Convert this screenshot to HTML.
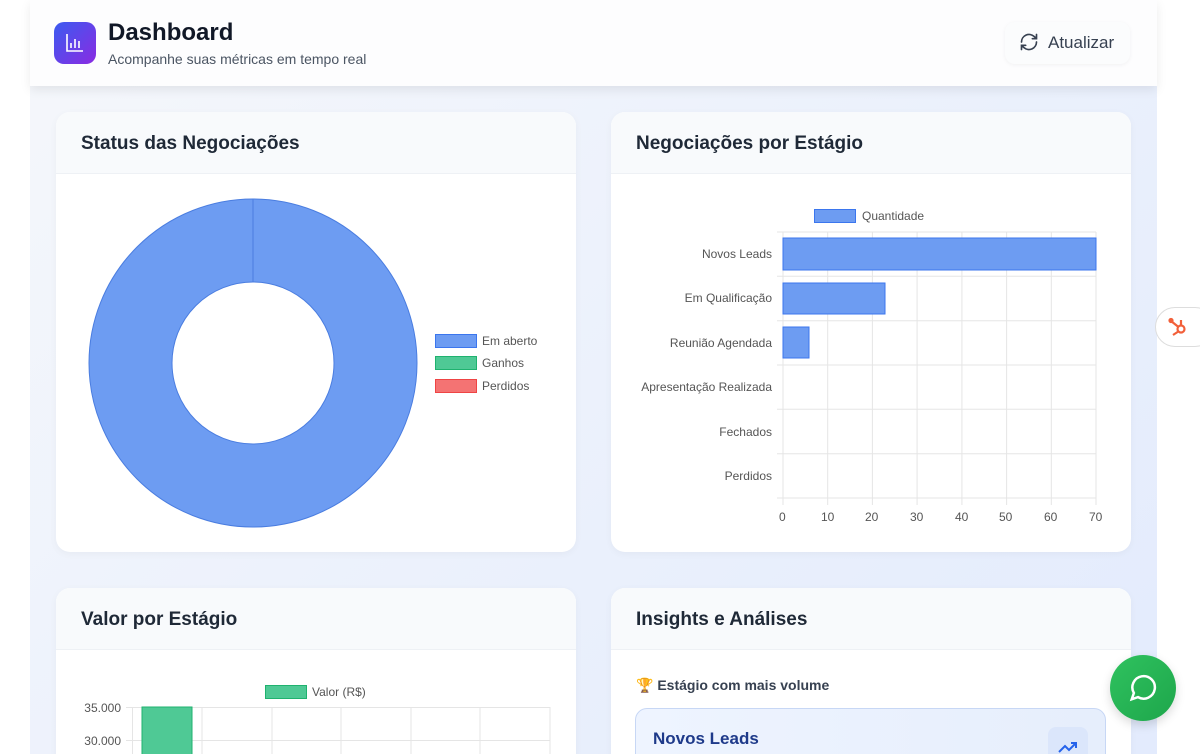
<!DOCTYPE html>
<html><head><meta charset="utf-8"><style>
*{margin:0;padding:0;box-sizing:border-box}
html,body{width:1200px;height:754px;overflow:hidden}
body{background:#fff;font-family:"Liberation Sans",sans-serif;position:relative}
.main{position:absolute;left:30px;top:0;width:1127px;height:754px;background:linear-gradient(135deg,#f5f7fb 0%,#eaf0fc 60%,#e3ebfd 100%)}
.hdr{position:absolute;left:30px;top:0;width:1127px;height:86px;background:#fdfdfe;box-shadow:0 4px 10px rgba(0,0,0,.08)}
.logo{position:absolute;left:54px;top:22px;width:42px;height:42px;border-radius:10px;background:linear-gradient(135deg,#3b5bf0,#8a2be2)}
.card{position:absolute;background:#fff;border-radius:14px;overflow:hidden;box-shadow:0 2px 8px rgba(0,0,0,.04)}
.ch{height:62px;background:#f8fafc;border-bottom:1px solid #eef1f5;font-size:19px;font-weight:bold;color:#1f2937;padding:21px 0 0 25px}
.t{position:absolute;font-size:12px;color:#555}
</style></head><body>
<div class="main"></div>
<div class="hdr"></div>
<div class="logo"><svg width="42" height="42"><g stroke="#fff" stroke-width="1.6" fill="none"><path d="M13 12V29H29"/><path d="M17 26v-5M21 26v-9M25 26v-7"/></g></svg></div>
<div style="position:absolute;left:108px;top:19px;font-size:24px;font-weight:bold;color:#111827">Dashboard</div>
<div style="position:absolute;left:108px;top:51px;font-size:14px;color:#4b5563">Acompanhe suas métricas em tempo real</div>
<div style="position:absolute;left:1005px;top:22px;width:125px;height:42px;border-radius:10px;background:#fbfcfd;box-shadow:0 1px 4px rgba(0,0,0,.05)"></div>
<svg style="position:absolute;left:1019px;top:32px" width="20" height="20" viewBox="0 0 24 24" fill="none" stroke="#374151" stroke-width="2" stroke-linecap="round"><path d="M3 12a9 9 0 0 1 15-6.7L21 8M21 3v5h-5M21 12a9 9 0 0 1-15 6.7L3 16M3 21v-5h5"/></svg>
<div style="position:absolute;left:1048px;top:33px;font-size:17px;color:#374151">Atualizar</div>

<div class="card" style="left:56px;top:112px;width:520px;height:440px"><div class="ch">Status das Negociações</div></div>
<svg style="position:absolute;left:0;top:0" width="600" height="560">
<circle cx="253" cy="363" r="122.5" fill="none" stroke="#6d9cf2" stroke-width="83"/>
<circle cx="253" cy="363" r="164" fill="none" stroke="#4a7de0" stroke-width="1"/>
<circle cx="253" cy="363" r="81" fill="none" stroke="#4a7de0" stroke-width="1"/>
<line x1="253" y1="199" x2="253" y2="282" stroke="#4a7de0"/>
<rect x="435.5" y="334.5" width="41" height="13" fill="#6d9cf2" stroke="#3b76ee"/>
<rect x="435.5" y="356.5" width="41" height="13" fill="#4fc995" stroke="#1fb26f"/>
<rect x="435.5" y="379.5" width="41" height="13" fill="#f47373" stroke="#ef4444"/>
</svg>
<div class="t" style="left:482px;top:334px">Em aberto</div>
<div class="t" style="left:482px;top:356px">Ganhos</div>
<div class="t" style="left:482px;top:379px">Perdidos</div>

<div class="card" style="left:611px;top:112px;width:520px;height:440px"><div class="ch">Negociações por Estágio</div></div>
<svg style="position:absolute;left:600px;top:0" width="600" height="560">
<g stroke="#e5e5e5" stroke-width="1">
<line x1="183" y1="232" x2="183" y2="505"/><line x1="227.7" y1="232" x2="227.7" y2="505"/><line x1="272.4" y1="232" x2="272.4" y2="505"/><line x1="317.1" y1="232" x2="317.1" y2="505"/><line x1="361.9" y1="232" x2="361.9" y2="505"/><line x1="406.6" y1="232" x2="406.6" y2="505"/><line x1="451.3" y1="232" x2="451.3" y2="505"/><line x1="496" y1="232" x2="496" y2="505"/>
<line x1="177" y1="232" x2="496" y2="232"/><line x1="177" y1="276.3" x2="496" y2="276.3"/><line x1="177" y1="320.7" x2="496" y2="320.7"/><line x1="177" y1="365" x2="496" y2="365"/><line x1="177" y1="409.3" x2="496" y2="409.3"/><line x1="177" y1="453.7" x2="496" y2="453.7"/><line x1="177" y1="498" x2="496" y2="498"/>
</g>
<rect x="183" y="238" width="313" height="32" fill="#6d9cf2" stroke="#3b76ee"/>
<rect x="183" y="283" width="102" height="31" fill="#6d9cf2" stroke="#3b76ee"/>
<rect x="183" y="327" width="26" height="31" fill="#6d9cf2" stroke="#3b76ee"/>
<rect x="214.5" y="209.5" width="41" height="13" fill="#6d9cf2" stroke="#3b76ee"/>
</svg>
<div class="t" style="left:862px;top:209px">Quantidade</div>
<div class="t" style="left:600px;width:172px;text-align:right;top:247px">Novos Leads</div>
<div class="t" style="left:600px;width:172px;text-align:right;top:291px">Em Qualificação</div>
<div class="t" style="left:600px;width:172px;text-align:right;top:336px">Reunião Agendada</div>
<div class="t" style="left:600px;width:172px;text-align:right;top:380px">Apresentação Realizada</div>
<div class="t" style="left:600px;width:172px;text-align:right;top:425px">Fechados</div>
<div class="t" style="left:600px;width:172px;text-align:right;top:469px">Perdidos</div>
<div class="t" style="left:779px;top:510px">0</div><div class="t" style="left:821px;top:510px">10</div><div class="t" style="left:865px;top:510px">20</div><div class="t" style="left:910px;top:510px">30</div><div class="t" style="left:955px;top:510px">40</div><div class="t" style="left:999px;top:510px">50</div><div class="t" style="left:1044px;top:510px">60</div><div class="t" style="left:1089px;top:510px">70</div>

<div class="card" style="left:56px;top:588px;width:520px;height:180px"><div class="ch">Valor por Estágio</div></div>
<svg style="position:absolute;left:0;top:560px" width="600" height="194">
<g stroke="#e5e5e5"><line x1="126" y1="147.5" x2="550" y2="147.5"/><line x1="126" y1="180.5" x2="550" y2="180.5"/>
<line x1="132.5" y1="147" x2="132.5" y2="194"/><line x1="202" y1="147" x2="202" y2="194"/><line x1="272" y1="147" x2="272" y2="194"/><line x1="341" y1="147" x2="341" y2="194"/><line x1="411" y1="147" x2="411" y2="194"/><line x1="480" y1="147" x2="480" y2="194"/><line x1="550" y1="147" x2="550" y2="194"/></g>
<rect x="142" y="147" width="50" height="50" fill="#4fc995" stroke="#1fb26f"/>
<rect x="265.5" y="125.5" width="41" height="13" fill="#4fc995" stroke="#1fb26f"/>
</svg>
<div class="t" style="left:312px;top:685px">Valor (R$)</div>
<div class="t" style="left:60px;width:61px;text-align:right;top:701px">35.000</div>
<div class="t" style="left:60px;width:61px;text-align:right;top:734px">30.000</div>

<div class="card" style="left:611px;top:588px;width:520px;height:180px"><div class="ch">Insights e Análises</div></div>
<div style="position:absolute;left:636px;top:677px;font-size:14px;font-weight:bold;color:#374151">🏆 Estágio com mais volume</div>
<div style="position:absolute;left:635px;top:708px;width:471px;height:60px;border-radius:12px;background:linear-gradient(90deg,#eef4ff,#e6eefc);border:1px solid #c7d7f5"></div>
<div style="position:absolute;left:653px;top:729px;font-size:17px;font-weight:bold;color:#1e3a8a">Novos Leads</div>
<div style="position:absolute;left:1048px;top:727px;width:40px;height:40px;border-radius:8px;background:#dbe6fb"></div>
<svg style="position:absolute;left:1058px;top:740px" width="20" height="14"><path d="M1 12l6-6 4 4 7-7M13 3h5v5" fill="none" stroke="#2563eb" stroke-width="2"/></svg>

<div style="position:absolute;left:1110px;top:655px;width:66px;height:66px;border-radius:50%;background:linear-gradient(135deg,#2fc25f,#1ea64b);box-shadow:0 4px 10px rgba(0,0,0,.15)"></div>
<svg style="position:absolute;left:1128px;top:673px" width="30" height="30" viewBox="0 0 24 24" fill="none" stroke="#fff" stroke-width="2"><path d="M3 21l1.7-5A9 9 0 1 1 8 19.3z"/></svg>
<div style="position:absolute;left:1155px;top:307px;width:60px;height:40px;border-radius:20px;background:#fff;border:1px solid #ddd"></div>
<svg style="position:absolute;left:1166px;top:315px" width="24" height="24" viewBox="0 0 24 24" fill="none" stroke="#f2603a" stroke-width="2.2"><circle cx="15" cy="14" r="3.5"/><path d="M15 10.5V5M12.3 16.5L7 20M12.5 12L5 6"/><circle cx="5" cy="5.5" r="1.5" fill="#f2603a"/></svg>
</body></html>
